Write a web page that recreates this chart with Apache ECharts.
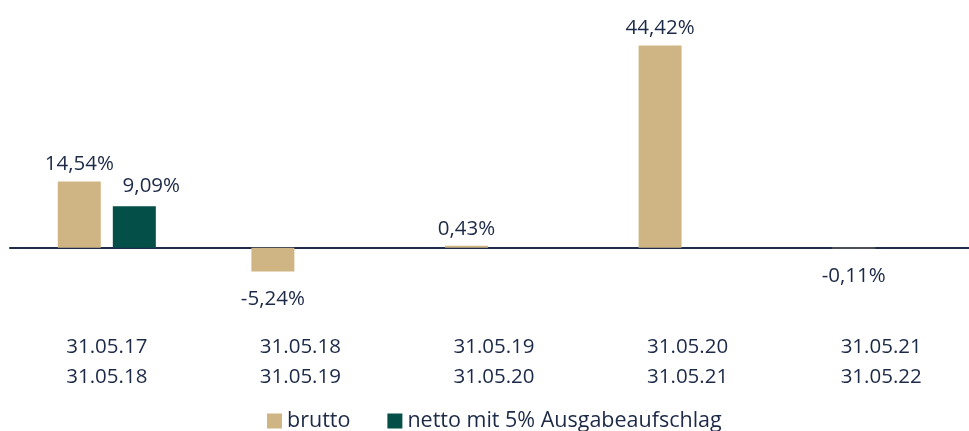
<!DOCTYPE html>
<html>
<head>
<meta charset="utf-8">
<script src="https://cdn.jsdelivr.net/npm/echarts@6/dist/echarts.min.js"></script>
<style>
  html, body { margin: 0; padding: 0; background: #fff; }
  #chart { width: 969px; height: 431px; }
</style>
</head>
<body>
<div id="chart"></div>
<script>
const periodStart = ['31.05.17', '31.05.18', '31.05.19', '31.05.20', '31.05.21'];
const periodEnd = ['31.05.18', '31.05.19', '31.05.20', '31.05.21', '31.05.22'];
const brutto = [14.54, -5.24, 0.43, 44.42, -0.11];
const netto = [9.09, null, null, null, null];

const textColor = '#1c2a48';
const font = '"Open Sans", "Noto Sans", sans-serif';

function fmt(p) {
  return p.value.toFixed(2).replace('.', ',') + '%';
}

// negative bars get their label below the bar
function withLabels(values, posDist, negDist) {
  return values.map(function (v) {
    if (v === null) return null;
    if (v < 0) return { value: v, label: { position: 'bottom', distance: negDist } };
    return { value: v, label: { position: 'top', distance: posDist } };
  });
}

const chart = echarts.init(document.getElementById('chart'));
chart.setOption({
  animation: false,
  textStyle: { fontFamily: font },
  grid: {
    left: 10, right: -9, top: 20, bottom: 115,
    containLabel: false,
    outerBoundsMode: 'none'
  },
  legend: {
    left: 267,
    top: 410,
    padding: 0,
    itemWidth: 15,
    itemHeight: 15,
    itemGap: 37,
    icon: 'rect',
    textStyle: { color: textColor, fontSize: 21.5, fontFamily: font, lineHeight: 20 },
    data: ['brutto', 'netto mit 5% Ausgabeaufschlag']
  },
  xAxis: {
    type: 'category',
    data: periodStart.map(function (s, i) { return s + '\n' + periodEnd[i]; }),
    axisLine: { onZero: true, lineStyle: { color: '#1f2d4b', width: 2 } },
    axisTick: { show: false },
    axisLabel: {
      color: textColor,
      fontSize: 20.5,
      lineHeight: 30,
      margin: 16,
      fontFamily: font
    }
  },
  yAxis: {
    type: 'value',
    min: -15,
    max: 50,
    show: false,
    splitLine: { show: false }
  },
  series: [
    {
      name: 'brutto',
      type: 'bar',
      barWidth: 43,
      barGap: '28%',
      itemStyle: { color: '#cfb583' },
      label: {
        show: true,
        formatter: fmt,
        color: textColor,
        fontSize: 20.5,
        lineHeight: 20,
        fontFamily: font
      },
      data: withLabels(brutto, 7, 18)
    },
    {
      name: 'netto mit 5% Ausgabeaufschlag',
      type: 'bar',
      barWidth: 43,
      itemStyle: { color: '#044f47' },
      label: {
        show: true,
        formatter: fmt,
        color: textColor,
        fontSize: 20.5,
        lineHeight: 20,
        offset: [17, 0],
        fontFamily: font
      },
      data: withLabels(netto, 10, 18)
    }
  ]
});
</script>
</body>
</html>
